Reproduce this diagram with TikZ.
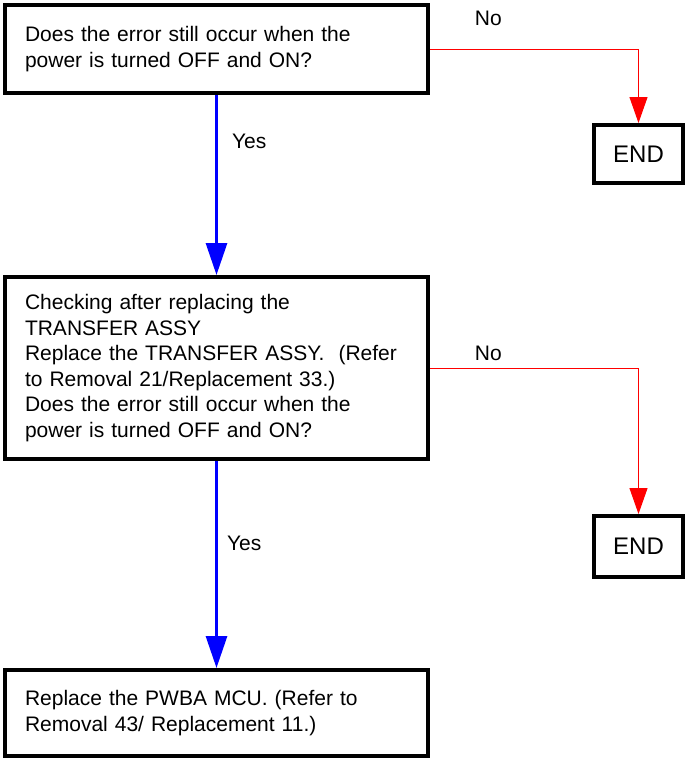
\documentclass[tikz,border=0pt]{standalone}
\usepackage{fontspec}
\setmainfont{Liberation Sans}
\usetikzlibrary{arrows.meta, positioning}
\tikzset{
  lbl/.style={font=\fontsize{15.75}{19}\selectfont, text=black, inner sep=0pt},
  qbox/.style={draw=black, line width=3pt, fill=white, align=left,
               text width=287.25pt, inner xsep=15pt, minimum width=317.25pt,
               font=\fontsize{15.75}{19.1}\selectfont},
  endbox/.style={draw=black, line width=3pt, fill=white, minimum width=66.75pt,
               font=\fontsize{18}{21}\selectfont},
  yesflow/.style={-{Triangle[length=24pt, width=15.75pt]}, line width=2.25pt, color=blue},
  noflow/.style={-{Triangle[length=19.5pt, width=13.5pt]}, line width=0.75pt, color=red},
}
\begin{document}
\begin{tikzpicture}[x=0.75pt, y=-0.75pt]
  \useasboundingbox (0,0) rectangle (686,760);
  \node[qbox, minimum height=66pt] (q1) at (216.5,49)
    {Does the error still occur when the\\power is turned OFF and ON?};
  \node[endbox, minimum height=43.5pt] (end1) at (638.5,154) {END};
  \node[qbox, minimum height=136.5pt] (q2) at (216.5,368)
    {Checking after replacing the\\TRANSFER ASSY\\Replace the TRANSFER ASSY.\ \ (Refer\\to Removal 21/Replacement 33.)\\Does the error still occur when the\\power is turned OFF and ON?};
  \node[endbox, minimum height=45.75pt] (end2) at (638.5,546.5) {END};
  \node[qbox, minimum height=64.5pt] (fix) at (216.5,713)
    {Replace the PWBA MCU. (Refer to\\Removal 43/ Replacement 11.)};
  % connectors
  \draw[noflow] (q1.east) -| node[lbl, pos=0.14, yshift=23pt] (no1) {No} (end1.north);
  \draw[yesflow] (q1) -- node[lbl, anchor=west, pos=0.255, xshift=10.5pt] (yes1) {Yes} (q2);
  \draw[noflow] (q2.east) -| node[lbl, pos=0.14, yshift=11.25pt] (no2) {No} (end2.north);
  \draw[yesflow] (q2) -- node[lbl, anchor=west, pos=0.40, xshift=6.75pt] (yes2) {Yes} (fix);
\end{tikzpicture}
\end{document}
